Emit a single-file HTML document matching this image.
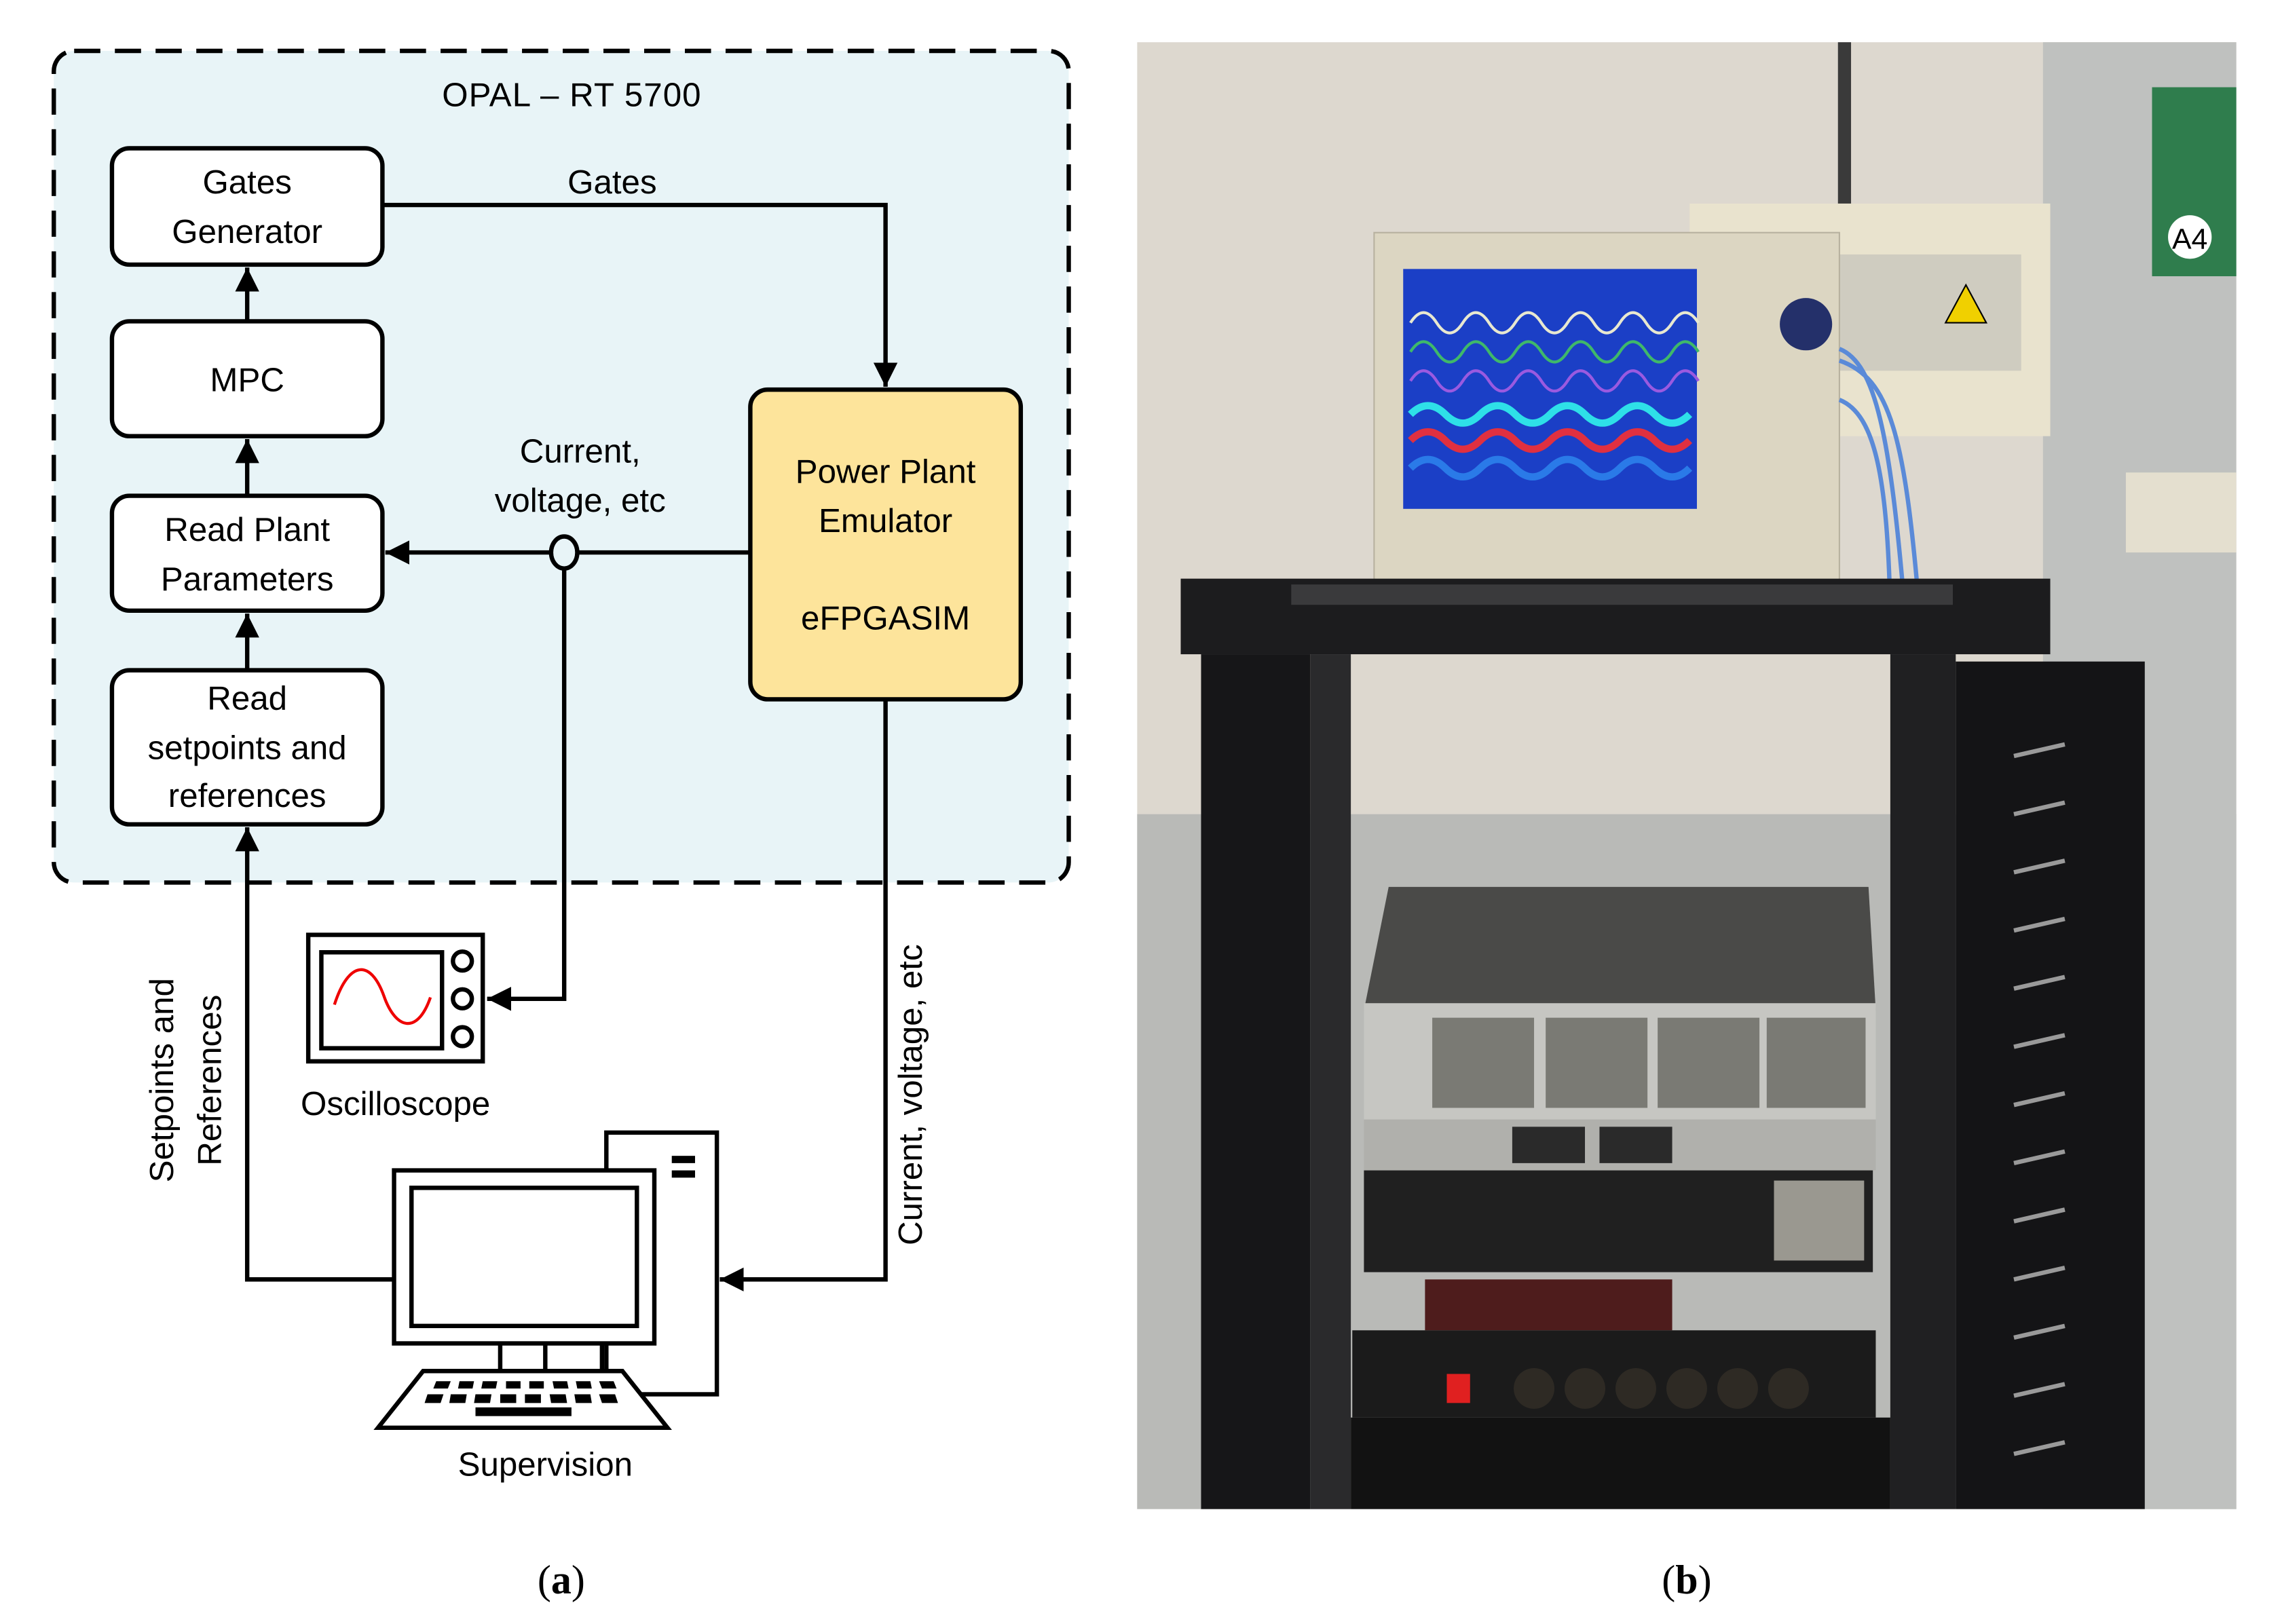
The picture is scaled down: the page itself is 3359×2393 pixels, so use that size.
<!DOCTYPE html>
<html><head><meta charset="utf-8"><style>html,body{margin:0;padding:0;background:#fff}svg{display:block}text{font-family:"Liberation Sans",sans-serif;fill:#000}</style></head>
<body>
<svg width="3359" height="2393" viewBox="0 0 1568 1117" preserveAspectRatio="none" xmlns="http://www.w3.org/2000/svg">
<defs>
<marker id="ah" viewBox="0 0 10 10" refX="10" refY="5" markerWidth="5.5" markerHeight="5.5" orient="auto"><path d="M0,0 L10,5 L0,10 z" fill="#000"/></marker>
</defs>
<rect width="1568" height="1117" fill="#fff"/>
<rect x="37" y="35" width="698" height="572" rx="14" fill="#e8f4f7" stroke="#000" stroke-width="3" stroke-dasharray="18 10"/>
<text x="393" y="73" font-size="23" text-anchor="middle" textLength="178">OPAL – RT 5700</text>
<g stroke="#000" stroke-width="3" fill="#fff">
<rect x="77" y="102" width="186" height="80" rx="12"/>
<rect x="77" y="221" width="186" height="79" rx="12"/>
<rect x="77" y="341" width="186" height="79" rx="12"/>
<rect x="77" y="461" width="186" height="106" rx="12"/>
<rect x="516" y="268" width="186" height="213" rx="12" fill="#fde49b"/>
</g>
<g font-size="23" text-anchor="middle">
<text x="170" y="133">Gates</text>
<text x="170" y="167">Generator</text>
<text x="170" y="269">MPC</text>
<text x="170" y="372">Read Plant</text>
<text x="170" y="406">Parameters</text>
<text x="170" y="488">Read</text>
<text x="170" y="522">setpoints and</text>
<text x="170" y="555">references</text>
<text x="609" y="332">Power Plant</text>
<text x="609" y="366">Emulator</text>
<text x="609" y="433">eFPGASIM</text>
<text x="421" y="133">Gates</text>
<text x="399" y="318">Current,</text>
<text x="399" y="352">voltage, etc</text>
<text x="272" y="767">Oscilloscope</text>
<text x="375" y="1015">Supervision</text>
</g>
<g stroke="#000" stroke-width="3" fill="none">
<path d="M263,141 H609 V266" marker-end="url(#ah)"/>
<path d="M170,221 V184" marker-end="url(#ah)"/>
<path d="M170,341 V302" marker-end="url(#ah)"/>
<path d="M170,461 V422" marker-end="url(#ah)"/>
<path d="M516,380 H265" marker-end="url(#ah)"/>
<path d="M388,390 V687 H335" marker-end="url(#ah)"/>
<path d="M609,481 V880 H495" marker-end="url(#ah)"/>
<path d="M271,880 H170 V569" marker-end="url(#ah)"/>
</g>
<ellipse cx="388" cy="380" rx="9" ry="11" fill="#e8f4f7" stroke="#000" stroke-width="3"/>
<text transform="translate(119,743) rotate(-90)" font-size="23" text-anchor="middle">Setpoints and</text>
<text transform="translate(152,743) rotate(-90)" font-size="23" text-anchor="middle">References</text>
<text transform="translate(634,753) rotate(-90)" font-size="23" text-anchor="middle">Current, voltage, etc</text>
<g stroke="#000" stroke-width="3" fill="#fff">
<rect x="212" y="643" width="120" height="87"/>
<rect x="221" y="655" width="83" height="66"/>
<circle cx="318" cy="661" r="6.5"/><circle cx="318" cy="687" r="6.5"/><circle cx="318" cy="713" r="6.5"/>
</g>
<path d="M230,691 C240,660 255,660 264,685 C272,708 287,712 296,686" stroke="#e00" stroke-width="2" fill="none"/>
<g stroke="#000" stroke-width="3" fill="#fff">
<rect x="417" y="779" width="76" height="180"/>
<rect x="271" y="805" width="179" height="119"/>
<rect x="283" y="817" width="155" height="95"/>
<path d="M344,924 V943 M375,924 V943 M414,924 V943"/>
<path d="M291,943 H428 L459,982 H260 Z"/>
</g>
<rect x="462" y="795" width="16" height="5" fill="#000"/><rect x="462" y="805" width="16" height="5" fill="#000"/>
<g fill="#000">
<path d="M300,950h10l-2,5h-10z M316,950h10l-1,5h-10z M332,950h10l-1,5h-10z M348,950h10v5h-10z M364,950h10v5h-10z M380,950h10l1,5h-10z M396,950h10l1,5h-10z M412,950h10l2,5h-10z"/>
<path d="M294,959h11l-2,6h-11z M310,959h11l-1,6h-11z M327,959h11l-1,6h-11z M344,959h11v6h-11z M361,959h11v6h-11z M378,959h11l1,6h-11z M395,959h11l1,6h-11z M412,959h11l2,6h-11z"/>
<rect x="327" y="968" width="66" height="6"/>
</g>
<text x="386" y="1096" font-size="28" text-anchor="middle" style="font-family:'Liberation Serif',serif">(<tspan font-weight="bold">a</tspan>)</text>
<text x="1160" y="1096" font-size="28" text-anchor="middle" style="font-family:'Liberation Serif',serif">(<tspan font-weight="bold">b</tspan>)</text>
<svg x="782" y="29" width="756" height="1009" viewBox="782 29 756 1009" preserveAspectRatio="none">
<rect x="782" y="29" width="756" height="1009" fill="#ddd8cf"/>
<rect x="782" y="560" width="756" height="478" fill="#b9bab7"/>
<rect x="1405" y="29" width="133" height="1009" fill="#bfc1bf"/>
<rect x="1480" y="60" width="58" height="130" fill="#2f7d4d"/>
<circle cx="1506" cy="163" r="15" fill="#fff"/><text x="1506" y="171" font-size="20" text-anchor="middle" fill="#000">A4</text>
<rect x="1264" y="29" width="9" height="140" fill="#3a3a3a"/>
<rect x="1162" y="140" width="248" height="160" fill="#e9e3ce"/>
<rect x="1250" y="175" width="140" height="80" fill="#cfccc0"/>
<path d="M1352,196 l14,26 h-28z" fill="#f0d000" stroke="#000"/>
<rect x="1462" y="325" width="76" height="55" fill="#e4dfcf"/>
<rect x="945" y="160" width="320" height="242" fill="#dcd6c2" stroke="#b8b2a0"/>
<rect x="965" y="185" width="202" height="165" fill="#1b3fc6"/>
<g fill="none" stroke-width="2">
<path d="M970,222 q9,-14 18,0 t18,0 t18,0 t18,0 t18,0 t18,0 t18,0 t18,0 t18,0 t18,0 t18,0" stroke="#e8e8d0"/>
<path d="M970,242 q9,-14 18,0 t18,0 t18,0 t18,0 t18,0 t18,0 t18,0 t18,0 t18,0 t18,0 t18,0" stroke="#3fb86a"/>
<path d="M970,262 q9,-14 18,0 t18,0 t18,0 t18,0 t18,0 t18,0 t18,0 t18,0 t18,0 t18,0 t18,0" stroke="#9a5ae0"/>
<path d="M970,285 q12,-12 24,0 t24,0 t24,0 t24,0 t24,0 t24,0 t24,0 t24,0" stroke="#2ee0e8" stroke-width="5"/>
<path d="M970,303 q12,-12 24,0 t24,0 t24,0 t24,0 t24,0 t24,0 t24,0 t24,0" stroke="#e03040" stroke-width="5"/>
<path d="M970,322 q12,-12 24,0 t24,0 t24,0 t24,0 t24,0 t24,0 t24,0 t24,0" stroke="#2a7ae8" stroke-width="5"/>
</g>
<circle cx="1242" cy="223" r="18" fill="#24306a"/>
<g stroke="#5a8ad8" stroke-width="3" fill="none"><path d="M1265,240 C1290,250 1300,300 1310,420"/><path d="M1265,248 C1300,260 1310,300 1320,420"/><path d="M1265,275 C1290,285 1298,330 1300,420"/></g>
<rect x="812" y="398" width="598" height="52" fill="#1c1c1e"/>
<rect x="888" y="402" width="455" height="14" fill="#3a3a3c"/>
<rect x="826" y="450" width="75" height="588" fill="#161618"/>
<rect x="901" y="450" width="28" height="588" fill="#2a2a2c"/>
<rect x="1300" y="450" width="45" height="588" fill="#202022"/>
<rect x="1345" y="455" width="130" height="583" fill="#141416"/>
<g stroke="#9a9a9a" stroke-width="3"><path d="M1385,520 l35,-8 M1385,560 l35,-8 M1385,600 l35,-8 M1385,640 l35,-8 M1385,680 l35,-8 M1385,720 l35,-8 M1385,760 l35,-8 M1385,800 l35,-8 M1385,840 l35,-8 M1385,880 l35,-8 M1385,920 l35,-8 M1385,960 l35,-8 M1385,1000 l35,-8"/></g>
<path d="M955,610 H1285 L1290,695 H938 Z" fill="#4a4a48"/>
<rect x="938" y="690" width="352" height="80" fill="#c6c6c2"/>
<g fill="#7a7a74"><rect x="985" y="700" width="70" height="62"/><rect x="1063" y="700" width="70" height="62"/><rect x="1140" y="700" width="70" height="62"/><rect x="1215" y="700" width="68" height="62"/></g>
<rect x="938" y="770" width="352" height="35" fill="#b0b0ac"/>
<rect x="1040" y="775" width="50" height="25" fill="#2a2a2a"/><rect x="1100" y="775" width="50" height="25" fill="#2a2a2a"/>
<rect x="938" y="805" width="350" height="70" fill="#202020"/>
<rect x="1220" y="812" width="62" height="55" fill="#9a9890"/>
<rect x="980" y="880" width="170" height="35" fill="#4e1c1c"/>
<rect x="930" y="915" width="360" height="60" fill="#1b1b1b"/>
<rect x="995" y="945" width="16" height="20" fill="#e02020"/>
<g fill="#2e2a24"><circle cx="1055" cy="955" r="14"/><circle cx="1090" cy="955" r="14"/><circle cx="1125" cy="955" r="14"/><circle cx="1160" cy="955" r="14"/><circle cx="1195" cy="955" r="14"/><circle cx="1230" cy="955" r="14"/></g>
<rect x="929" y="975" width="371" height="63" fill="#121212"/>
</svg>
</svg>
</body></html>
